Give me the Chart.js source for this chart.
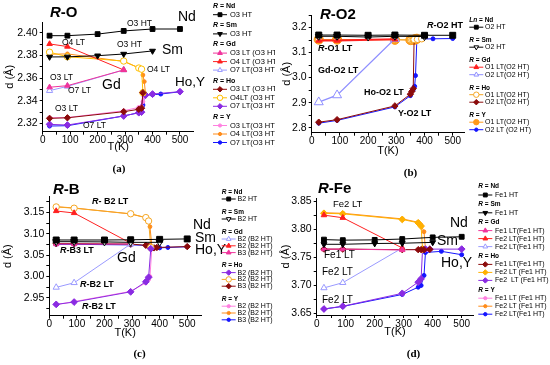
<!DOCTYPE html>
<html><head><meta charset="utf-8">
<script src="https://cdn.jsdelivr.net/npm/chart.js@4"></script>
<style>
html,body{margin:0;padding:0;background:#fff;width:550px;height:365px;overflow:hidden}
canvas{position:absolute}
</style></head><body>
<canvas id="ca" width="275" height="180" style="left:0;top:0;width:275px;height:180px"></canvas>
<canvas id="cb" width="275" height="180" style="left:275px;top:0;width:275px;height:180px"></canvas>
<canvas id="cc" width="275" height="185" style="left:0;top:180px;width:275px;height:185px"></canvas>
<canvas id="cd" width="275" height="185" style="left:275px;top:180px;width:275px;height:185px"></canvas>
<script>
// ===== DATA =====
const xMajor = [0, 100, 200, 300, 400, 500];
const xMinor = [50, 150, 250, 350, 450];

const T_Nd = [25, 90, 200, 295, 400, 500];
const T_Sm = [25, 90, 200, 295, 400];
const T_Gd = [25, 90, 295];

// (a) R-O
const a_yMajor = [2.32, 2.34, 2.36, 2.38, 2.40];
const a_yMinor = [2.33, 2.35, 2.37, 2.39];
const a_Nd_O3HT = [2.3976, 2.3976, 2.3990, 2.4018, 2.4035, 2.4035];
const a_Sm_O3HT = [2.3788, 2.3789, 2.3799, 2.3814, 2.3841];
const a_Gd_O3LT = [2.3520, 2.3534, 2.3673];
const a_Gd_O4LT = [2.3903, 2.3880, 2.3673];
const a_Gd_O7LT = [2.3490, 2.3528, 2.3673];
const a_T_HoLT = [25, 90, 295, 350, 360, 365];
const a_Ho_O3LT = [2.3245, 2.3250, 2.3304, 2.3325, 2.3335, 2.3472];
const a_Ho_O4LT = [2.3830, 2.3790, 2.3752, 2.3690, 2.3680, 2.3472];
const a_T_HoO7 = [25, 90, 295, 350, 360, 365, 375, 400, 500];
const a_Ho_O7LT = [2.3192, 2.3186, 2.3266, 2.3295, 2.3300, 2.3472, 2.3451, 2.3460, 2.3481];
const a_T_YLT = [25, 90, 295, 350, 360, 365, 370, 375];
const a_Y_O3LT = [2.3250, 2.3252, 2.3312, 2.3342, 2.3350, 2.3392, 2.3437, 2.3450];
const a_Y_O4LT = [2.3812, 2.3815, 2.3748, 2.3693, 2.3686, 2.3628, 2.3570, 2.3450];
const a_T_YO7 = [25, 90, 295, 350, 360, 365, 370, 375, 400, 430, 500];
const a_Y_O7LT = [2.3177, 2.3180, 2.3266, 2.3295, 2.3304, 2.3363, 2.3437, 2.3450, 2.3453, 2.3460, 2.3480];

// (b) R-O2
const b_yMajor = [2.8, 2.9, 3.0, 3.1, 3.2];
const b_yMinor = [2.85, 2.95, 3.05, 3.15, 3.25];
const b_Nd_O2HT = [3.170, 3.170, 3.169, 3.170, 3.169, 3.169];
const b_Sm_O2HT = [3.165, 3.165, 3.162, 3.165, 3.164];
const b_Gd_O1LT = [3.148, 3.148, 3.153];
const b_Gd_O2LT = [2.902, 2.930, 3.155];
const b_T_Ho = [25, 90, 295, 350, 355, 360, 363, 375, 390];
const b_Ho_O1LT = [3.152, 3.152, 3.152, 3.150, 3.150, 3.151, 3.152, 3.153, 3.155];
const b_Ho_O2LT = [2.822, 2.832, 2.887, 2.934, 2.945, 2.956, 3.150, 3.152, 3.155];
const b_T_YO1 = [25, 90, 295, 350, 360, 365, 368, 373];
const b_Y_O1LT = [3.152, 3.152, 3.151, 3.150, 3.151, 3.152, 3.153, 3.155];
const b_T_YO2 = [25, 90, 295, 350, 360, 365, 368, 373, 385, 430, 500];
const b_Y_O2LT = [2.818, 2.829, 2.883, 2.928, 2.952, 2.965, 3.008, 3.155, 3.154, 3.155, 3.156];

// (c) R-B
const c_yMajor = [2.95, 3.00, 3.05, 3.10, 3.15];
const c_yMinor = [2.925, 2.975, 3.025, 3.075, 3.125, 3.175];
const c_Nd_B2HT = [3.0855, 3.0855, 3.0855, 3.0860, 3.0870, 3.0880];
const c_Sm_B2HT = [3.0815, 3.0815, 3.0810, 3.0800, 3.0800];
const c_Gd_B2a = [2.9744, 2.9852, 3.0760];
const c_Gd_B2b = [3.1535, 3.1488, 3.0780];
const c_Gd_B3 = [3.0760, 3.0760, 3.0760];
const c_T_HoB2 = [25, 90, 295, 350, 360, 368];
const c_Ho_B2a = [2.9345, 2.9400, 2.9640, 2.9876, 2.9980, 3.0650];
const c_Ho_B2b = [3.1630, 3.1600, 3.1470, 3.1380, 3.1300, 3.0680];
const c_T_HoB3 = [25, 90, 295, 350, 360, 370, 380, 390, 500];
const c_Ho_B3 = [3.0770, 3.0770, 3.0760, 3.0730, 3.0710, 3.0670, 3.0670, 3.0680, 3.0700];
const c_T_YB2 = [25, 90, 295, 350, 360, 365, 372];
const c_Y_B2a = [2.9340, 2.9410, 2.9650, 2.9850, 2.9930, 3.0000, 3.0680];
const c_Y_B2b = [3.1636, 3.1606, 3.1465, 3.1378, 3.1324, 3.1167, 3.0697];
const c_T_YB3 = [25, 90, 295, 350, 360, 370, 375, 400, 430, 500];
const c_Y_B3 = [3.0753, 3.0753, 3.0740, 3.0730, 3.0710, 3.0650, 3.0660, 3.0670, 3.0680, 3.0697];

// (d) R-Fe
const d_yMajor = [3.65, 3.70, 3.75, 3.80, 3.85];
const d_yMinor = [3.675, 3.725, 3.775, 3.825];
const d_Nd_Fe1HT = [3.7820, 3.7810, 3.7815, 3.7830, 3.7860, 3.7870];
const d_Sm_Fe1HT = [3.7736, 3.7736, 3.7750, 3.7755, 3.7770];
const d_Gd_Fe1LT = [3.7650, 3.7650, 3.7635];
const d_Gd_Fe2LTa = [3.8257, 3.8210, 3.7670];
const d_Gd_Fe2LTb = [3.6957, 3.7050, 3.7670];
const d_T_HoFe1 = [25, 90, 295, 350, 360, 370, 390];
const d_Ho_Fe1LT = [3.7650, 3.7650, 3.7640, 3.7640, 3.7640, 3.7640, 3.7645];
const d_T_HoFe2a = [25, 90, 295, 350, 360, 365];
const d_Ho_Fe2LTa = [3.8290, 3.8280, 3.8180, 3.8120, 3.8060, 3.7650];
const d_T_HoFe2b = [25, 90, 295, 350, 360, 365, 375, 390, 500];
const d_Ho_Fe2LTb = [3.6580, 3.6630, 3.6860, 3.7060, 3.7120, 3.7650, 3.7650, 3.7650, 3.7650];
const d_T_YFe1 = [25, 90, 295, 350, 360, 370, 380];
const d_Y_Fe1LT = [3.7645, 3.7645, 3.7640, 3.7640, 3.7640, 3.7640, 3.7640];
const d_T_YFe2a = [25, 90, 295, 350, 360, 370, 375];
const d_Y_Fe2LTa = [3.8300, 3.8290, 3.8190, 3.8130, 3.8080, 3.7960, 3.7650];
const d_T_YFe2b = [25, 90, 295, 350, 360, 370, 375, 430, 500];
const d_Y_Fe2LTb = [3.6580, 3.6626, 3.6840, 3.6970, 3.7000, 3.7180, 3.7590, 3.7610, 3.7550];

// ===== STYLES =====
const FF = "'Liberation Sans', Arial, sans-serif";
const SERIF = "'Liberation Serif', 'Times New Roman', serif";
Chart.defaults.font.family = FF;
Chart.defaults.color = '#000';

const ST = {
  nd:      {c:'#000000', f:'#000000', ps:'rect', r:3.4},
  ndB:     {c:'#000000', f:'#000000', ps:'rect', r:4.2},
  smF:     {c:'#000000', f:'#000000', ps:'triangle', rot:180, r:3.4},
  smO:     {c:'#000000', f:'#ffffff', ps:'triangle', rot:180, r:4},
  gdPink:  {c:'#f0349c', f:'#f0349c', ps:'triangle', r:3.2},
  gdRed:   {c:'#ff2020', f:'#ff2020', ps:'triangle', r:3.2},
  gdRedB:  {c:'#ff2020', f:'#ff2020', ps:'triangle', r:3.4, lw:2},
  gdBlueO: {c:'#9a9aff', f:'#ffffff', ps:'triangle', r:3.6},
  gdBlueOB:{c:'#8f8fff', f:'#ffffff', ps:'triangle', r:5.2, lw:1.2},
  hoDark:  {c:'#8b0b0b', f:'#8b0b0b', ps:'rectRot', r:3.2},
  hoYelO:  {c:'#ffbf00', f:'#ffffff', ps:'circle', r:3.2},
  hoOrO:   {c:'#f5a623', f:'#ffffff', ps:'circle', r:3.2},
  hoPurple:{c:'#8a2be2', f:'#8a2be2', ps:'rectRot', r:3.4},
  hoGold:  {c:'#ffb000', f:'#ffb000', ps:'rectRot', r:3.4},
  yPink:   {c:'#ff80e0', f:'#ff80e0', ps:'circle', r:1.9},
  yOrange: {c:'#ff8c1a', f:'#ff8c1a', ps:'circle', r:1.9},
  yOrangeB:{c:'#ff9a1a', f:'#ff9a1a', ps:'circle', r:4.6},
  yBlue:   {c:'#1515ff', f:'#1515ff', ps:'circle', r:2}
};

function ds(grp, label, T, V, s) {
  return {
    grp, label,
    data: T.map((t, i) => ({x: t, y: V[i]})),
    borderColor: s.c, backgroundColor: s.f,
    pointBackgroundColor: s.f, pointBorderColor: s.c,
    pointStyle: s.ps, pointRadius: s.r, pointRotation: s.rot || 0,
    pointBorderWidth: 1, borderWidth: s.lw || 1, tension: 0, fill: false,
    _st: s
  };
}

function fontStr(style, size, fam) {
  return (style.includes('i') ? 'italic ' : '') + (style.includes('b') ? 'bold ' : '') + size + 'px ' + (fam || FF);
}
function drawRich(ctx, parts, x, y, size, fam, align) {
  if (typeof parts === 'string') parts = [[parts, '']];
  let w = 0;
  parts.forEach(p => { ctx.font = fontStr(p[1], size, fam); w += ctx.measureText(p[0]).width; });
  let cx = align === 'center' ? x - w / 2 : x;
  ctx.textBaseline = 'middle'; ctx.textAlign = 'left'; ctx.fillStyle = '#000';
  parts.forEach(p => { ctx.font = fontStr(p[1], size, fam); ctx.fillText(p[0], cx, y); cx += ctx.measureText(p[0]).width; });
}
function marker(ctx, s, x, y, r) {
  ctx.save();
  ctx.fillStyle = s.f; ctx.strokeStyle = s.c; ctx.lineWidth = 1;
  if (Chart.helpers && Chart.helpers.drawPoint) {
    Chart.helpers.drawPoint(ctx, {pointStyle: s.ps, rotation: s.rot || 0, radius: r, borderWidth: 1}, x, y);
  } else {
    ctx.beginPath(); ctx.arc(x, y, r, 0, Math.PI * 2); ctx.fill(); ctx.stroke();
  }
  ctx.restore();
}

function makeDeco(cfg) {
  return {
    id: 'panelDeco',
    afterDraw(chart) {
      const ctx = chart.ctx;
      ctx.save();
      cfg.anns.forEach(a => drawRich(ctx, a[2], a[0], a[1], a[3], a[4] ? SERIF : FF));
      drawRich(ctx, [[cfg.letter[2], 'b']], cfg.letter[0], cfg.letter[1], 11, SERIF, 'center');
      const L = cfg.legend;
      let y = L.y0, prev = null;
      chart.data.datasets.forEach(d => {
        if (d.grp !== prev) {
          if (prev !== null) y += L.g;
          const sp = d.grp.indexOf(' ');
          drawRich(ctx, [[d.grp.slice(0, sp), 'bi'], [d.grp.slice(sp), 'b']], L.hx, y, L.hs);
          y += L.h; prev = d.grp;
        } else y += L.i;
        const s = d._st;
        ctx.strokeStyle = s.c; ctx.lineWidth = 1;
        ctx.beginPath(); ctx.moveTo(L.hx, y); ctx.lineTo(L.hx + L.lw, y); ctx.stroke();
        marker(ctx, s, L.hx + L.lw / 2, y, Math.min(s.r, 3.2) * 0.85);
        drawRich(ctx, d.label, L.tx, y, L.is);
      });
      ctx.restore();
    }
  };
}

function near(arr, v) { return arr.some(a => Math.abs(a - v) < 1e-6); }

function makeChart(id, cfg) {
  const yTicks = cfg.yMajor.concat(cfg.yMinor).sort((a, b) => a - b);
  const xTicks = xMajor.concat(xMinor).sort((a, b) => a - b);
  return new Chart(document.getElementById(id), {
    type: 'line',
    data: {datasets: cfg.datasets},
    options: {
      responsive: false, maintainAspectRatio: false, animation: false, devicePixelRatio: 1,
      layout: {autoPadding: false, padding: cfg.pad},
      plugins: {legend: {display: false}, tooltip: {enabled: false}},
      scales: {
        x: {
          type: 'linear', min: 0, max: cfg.xmax,
          afterFit: s => { s.height = cfg.xh; },
          afterBuildTicks: s => { s.ticks = xTicks.map(v => ({value: v})); },
          ticks: {autoSkip: false, maxRotation: 0, minRotation: 0, padding: 0, font: {size: 10}, color: '#000',
                  callback: v => near(xMajor, v) ? String(v) : ''},
          grid: {display: true, drawOnChartArea: false, drawTicks: true, tickLength: 3, tickColor: '#000', tickWidth: 1},
          border: {display: true, color: '#000', width: 1},
          title: {display: true, text: 'T(K)', font: {size: 11}, color: '#000', padding: 0}
        },
        y: {
          type: 'linear', min: cfg.ymin, max: cfg.ymax,
          afterFit: s => { s.width = cfg.yw; },
          afterBuildTicks: s => { s.ticks = yTicks.map(v => ({value: v})); },
          ticks: {autoSkip: false, padding: 2, font: {size: 10.5}, color: '#000',
                  callback: v => near(cfg.yMajor, v) ? v.toFixed(cfg.dec) : ''},
          grid: {display: true, drawOnChartArea: false, drawTicks: true, tickLength: 3, tickColor: '#000', tickWidth: 1},
          border: {display: true, color: '#000', width: 1},
          title: {display: true, text: 'd (Å)', font: {size: 11}, color: '#000', padding: 0}
        }
      }
    },
    plugins: [makeDeco(cfg)]
  });
}

// ===== PANEL (a) =====
makeChart('ca', {
  pad: {left: 3.4, top: 22, right: 81.3, bottom: 26.4}, yw: 39.3, xh: 21.9,
  xmax: 550, ymin: 2.3127, ymax: 2.4097, yMajor: a_yMajor, yMinor: a_yMinor, dec: 2,
  datasets: [
    ds('R = Nd', 'O3 HT', T_Nd, a_Nd_O3HT, ST.nd),
    ds('R = Sm', 'O3 HT', T_Sm, a_Sm_O3HT, ST.smF),
    ds('R = Gd', 'O3 LT (O3 HT)', T_Gd, a_Gd_O3LT, ST.gdPink),
    ds('R = Gd', 'O4 LT (O3 HT)', T_Gd, a_Gd_O4LT, ST.gdRed),
    ds('R = Gd', 'O7 LT(O3 HT)', T_Gd, a_Gd_O7LT, ST.gdBlueO),
    ds('R = Ho', 'O3 LT (O3 HT)', a_T_HoLT, a_Ho_O3LT, ST.hoDark),
    ds('R = Ho', 'O4LT (O3 HT)', a_T_HoLT, a_Ho_O4LT, ST.hoYelO),
    ds('R = Ho', 'O7 LT(O3 HT)', a_T_HoO7, a_Ho_O7LT, ST.hoPurple),
    ds('R = Y', 'O3 LT(O3 HT)', a_T_YLT, a_Y_O3LT, ST.yPink),
    ds('R = Y', 'O4 LT(O3 HT)', a_T_YLT, a_Y_O4LT, ST.yOrange),
    ds('R = Y', 'O7 LT(O3 HT)', a_T_YO7, a_Y_O7LT, ST.yBlue)
  ],
  anns: [
    [50, 12.5, [['R', 'bi'], ['-O', 'b']], 15],
    [178, 17, 'Nd', 14],
    [127, 24, 'O3 HT', 8.5],
    [162, 50, 'Sm', 14],
    [117, 45, 'O3 HT', 8.5],
    [62, 43, 'O4 LT', 8.5],
    [50, 78, 'O3 LT', 8.5],
    [102, 85, 'Gd', 14],
    [147, 70, 'O4 LT', 8.5],
    [175, 82, 'Ho,Y', 13.5],
    [68, 91, 'O7 LT', 8.5],
    [55, 109, 'O3 LT', 8.5],
    [83, 126, 'O7 LT', 8.5]
  ],
  letter: [119, 169, '(a)'],
  legend: {hx: 213, lw: 14, tx: 230, y0: 6, h: 8.7, i: 8.5, g: 10.5, hs: 7, is: 7.5}
});

// ===== PANEL (b) =====
makeChart('cb', {
  pad: {left: 5.4, top: 15, right: 86, bottom: 22.4}, yw: 31.3, xh: 24.9,
  xmax: 540, ymin: 2.78, ymax: 3.25, yMajor: b_yMajor, yMinor: b_yMinor, dec: 1,
  datasets: [
    ds('Ln = Nd', 'O2 HT', T_Nd, b_Nd_O2HT, ST.ndB),
    ds('R = Sm', 'O2 HT', T_Sm, b_Sm_O2HT, ST.smO),
    ds('R = Gd', 'O1 LT(O2 HT)', T_Gd, b_Gd_O1LT, ST.gdRedB),
    ds('R = Gd', 'O2 LT(O2 HT)', T_Gd, b_Gd_O2LT, ST.gdBlueOB),
    ds('R = Ho', 'O1 LT(O2 HT)', b_T_Ho, b_Ho_O1LT, ST.hoOrO),
    ds('R = Ho', 'O2 LT(O2 HT)', b_T_Ho, b_Ho_O2LT, ST.hoDark),
    ds('R = Y', 'O1 LT(O2 HT)', b_T_YO1, b_Y_O1LT, ST.yOrangeB),
    ds('R = Y', 'O2 LT (O2 HT)', b_T_YO2, b_Y_O2LT, ST.yBlue)
  ],
  anns: [
    [45, 15, [['R', 'bi'], ['-O2', 'b']], 15],
    [152, 26, [['R', 'bi'], ['-O2 HT', 'b']], 9],
    [43, 49, [['R', 'bi'], ['-O1 LT', 'b']], 9],
    [43, 71, [['Gd-O2 LT', 'b']], 9],
    [89, 93, [['Ho-O2 LT', 'b']], 9],
    [123, 114, [['Y-O2 LT', 'b']], 9]
  ],
  letter: [135.5, 173, '(b)'],
  legend: {hx: 194.3, lw: 14, tx: 210, y0: 20.7, h: 6.5, i: 7.5, g: 13.5, hs: 6.5, is: 7}
});

// ===== PANEL (c) =====
makeChart('cc', {
  pad: {left: 1.7, top: 16.7, right: 74, bottom: 25}, yw: 47.6, xh: 24.3,
  xmax: 550, ymin: 2.908, ymax: 3.187, yMajor: c_yMajor, yMinor: c_yMinor, dec: 2,
  datasets: [
    ds('R = Nd', 'B2 HT', T_Nd, c_Nd_B2HT, ST.ndB),
    ds('R = Sm', 'B2 HT', T_Sm, c_Sm_B2HT, ST.smO),
    ds('R = Gd', 'B2 (B2 HT)', T_Gd, c_Gd_B2a, ST.gdBlueO),
    ds('R = Gd', 'B2 (B2 HT)', T_Gd, c_Gd_B2b, ST.gdRed),
    ds('R = Gd', 'B3 (B2 HT)', T_Gd, c_Gd_B3, ST.gdPink),
    ds('R = Ho', 'B2 (B2 HT)', c_T_HoB2, c_Ho_B2a, ST.hoPurple),
    ds('R = Ho', 'B2 (B2 HT)', c_T_HoB2, c_Ho_B2b, ST.hoOrO),
    ds('R = Ho', 'B3 (B2 HT)', c_T_HoB3, c_Ho_B3, ST.hoDark),
    ds('R = Y', 'B2 (B2 HT)', c_T_YB2, c_Y_B2a, ST.yPink),
    ds('R = Y', 'B2 (B2 HT)', c_T_YB2, c_Y_B2b, ST.yOrange),
    ds('R = Y', 'B3 (B2 HT)', c_T_YB3, c_Y_B3, ST.yBlue)
  ],
  anns: [
    [53, 10, [['R', 'bi'], ['-B', 'b']], 15],
    [92, 22, [['R', 'bi'], ['- B2 LT', 'b']], 9],
    [193, 45, 'Nd', 14],
    [195, 58, 'Sm', 14],
    [195, 70, 'Ho,Y', 14],
    [60, 71, [['R', 'bi'], ['-B3 LT', 'b']], 9],
    [117, 78, 'Gd', 14],
    [80, 105, [['R', 'bi'], ['-B2 LT', 'b']], 9],
    [82, 127, [['R', 'bi'], ['-B2 LT', 'b']], 9]
  ],
  letter: [139.5, 174, '(c)'],
  legend: {hx: 221.7, lw: 14, tx: 237.5, y0: 12, h: 7, i: 6.8, g: 13, hs: 6.5, is: 7}
});

// ===== PANEL (d) =====
makeChart('cd', {
  pad: {left: 4.4, top: 18, right: 76.7, bottom: 26.7}, yw: 37.3, xh: 23.3,
  xmax: 540, ymin: 3.6473, ymax: 3.8563, yMajor: d_yMajor, yMinor: d_yMinor, dec: 2,
  datasets: [
    ds('R = Nd', 'Fe1 HT', T_Nd, d_Nd_Fe1HT, ST.nd),
    ds('R = Sm', 'Fe1 HT', T_Sm, d_Sm_Fe1HT, ST.smF),
    ds('R = Gd', 'Fe1 LT(Fe1 HT)', T_Gd, d_Gd_Fe1LT, ST.gdPink),
    ds('R = Gd', 'Fe2 LT(Fe1 HT)', T_Gd, d_Gd_Fe2LTa, ST.gdRed),
    ds('R = Gd', 'Fe2 LT(Fe1 HT)', T_Gd, d_Gd_Fe2LTb, ST.gdBlueO),
    ds('R = Ho', 'Fe1 LT(Fe1 HT)', d_T_HoFe1, d_Ho_Fe1LT, ST.hoDark),
    ds('R = Ho', 'Fe2 LT (Fe1 HT)', d_T_HoFe2a, d_Ho_Fe2LTa, ST.hoGold),
    ds('R = Ho', 'Fe2  LT (Fe1 HT)', d_T_HoFe2b, d_Ho_Fe2LTb, ST.hoPurple),
    ds('R = Y', 'Fe1 LT (Fe1 HT)', d_T_YFe1, d_Y_Fe1LT, ST.yPink),
    ds('R = Y', 'Fe2 LT (Fe1 HT)', d_T_YFe2a, d_Y_Fe2LTa, ST.yOrange),
    ds('R = Y', 'Fe2 LT(Fe1 HT)', d_T_YFe2b, d_Y_Fe2LTb, ST.yBlue)
  ],
  anns: [
    [43, 9, [['R', 'bi'], ['-Fe', 'b']], 15],
    [58, 24, 'Fe2 LT', 9.5],
    [175, 43, 'Nd', 14],
    [162, 61, 'Sm', 14],
    [49, 75, 'Fe1 LT', 10],
    [166, 83, 'Ho,Y', 14],
    [47, 92, 'Fe2 LT', 10],
    [47, 120, 'Fe2 LT', 10]
  ],
  letter: [138.5, 174, '(d)'],
  legend: {hx: 203.3, lw: 14, tx: 220, y0: 6.7, h: 8.3, i: 8, g: 9.5, hs: 6.5, is: 7}
});
</script>
</body></html>
